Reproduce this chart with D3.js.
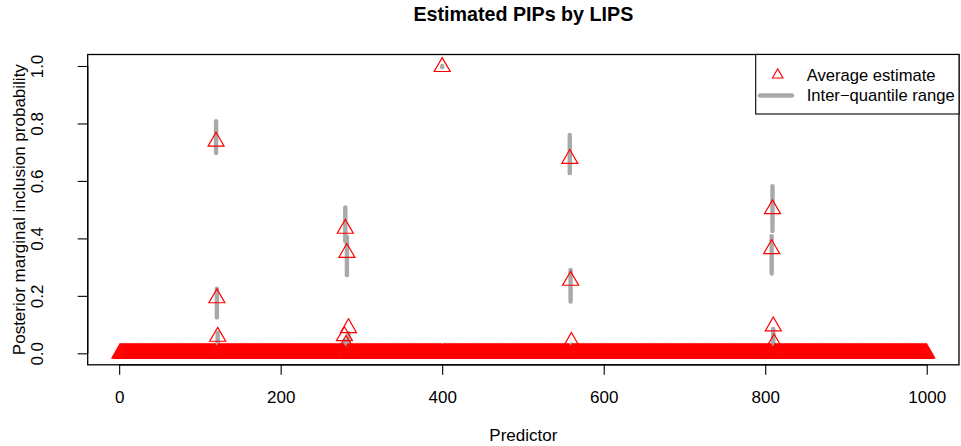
<!DOCTYPE html>
<html>
<head>
<meta charset="utf-8">
<script src="https://cdn.jsdelivr.net/npm/d3@7"></script>
<style>
  html, body { margin: 0; padding: 0; background: #fff; }
  svg { display: block; }
  text { font-family: "Liberation Sans", Arial, Helvetica, sans-serif; fill: #000; }
</style>
</head>
<body>
<svg id="chart" width="961" height="446"></svg>
<script>
// ---------------- data ----------------
const nPredictors = 1000;
// predictors with visibly non-zero estimates (all others are ~0)
const signalPredictor = [120, 121, 122, 279, 280, 281, 282, 284, 400, 558, 559, 560, 808, 809, 810, 811];
const signalMean      = [0.737, 0.192, 0.058, 0.060, 0.434, 0.030, 0.350, 0.088, 0.997, 0.677, 0.253, 0.040, 0.363, 0.502, 0.094, 0.035];
const signalQLow      = [0.697, 0.125, 0.035, 0.020, 0.390, 0.010, 0.272, 0.020, 0.996, 0.627, 0.180, 0.010, 0.278, 0.426, 0.035, 0.010];
const signalQHigh     = [0.808, 0.225, 0.071, 0.045, 0.508, 0.030, 0.405, 0.070, 1.000, 0.760, 0.290, 0.030, 0.408, 0.582, 0.085, 0.030];
const xTicks = [0, 200, 400, 600, 800, 1000];
const yTicks = [0.0, 0.2, 0.4, 0.6, 0.8, 1.0];
const yTickLabels = ["0.0", "0.2", "0.4", "0.6", "0.8", "1.0"];
const titleText = "Estimated PIPs by LIPS";
const xLabel = "Predictor";
const yLabel = "Posterior marginal inclusion probability";
const legendLabels = ["Average estimate", "Inter\u2212quantile range"];

// build full table
const rows = d3.range(1, nPredictors + 1).map(p => ({ p, mean: 0, lo: 0, hi: 0 }));
signalPredictor.forEach((p, i) => {
  rows[p - 1] = { p, mean: signalMean[i], lo: signalQLow[i], hi: signalQHigh[i] };
});

// ---------------- layout ----------------
const plot = { left: 87.7, right: 959, top: 54.5, bottom: 364.8 };
const svg = d3.select("#chart");

function pad(ext) { const d = (ext[1] - ext[0]) * 0.04; return [ext[0] - d, ext[1] + d]; }
const x = d3.scaleLinear().domain(pad([1, nPredictors])).range([plot.left, plot.right]);
const yExt = [d3.min(rows, r => Math.min(r.mean, r.lo)), d3.max(rows, r => Math.max(r.mean, r.hi))];
const y = d3.scaleLinear().domain(pad(yExt)).range([plot.bottom, plot.top]);

const grey = "#a9a9a9";
const red = "#ff0000";

// IQR segments
svg.append("g").selectAll("line").data(rows.filter(r => r.hi > 0)).join("line")
  .attr("x1", d => x(d.p)).attr("x2", d => x(d.p))
  .attr("y1", d => y(d.lo)).attr("y2", d => y(d.hi))
  .attr("stroke", grey).attr("stroke-width", 4.4).attr("stroke-linecap", "round");

// points
const tri = d3.symbol().type(d3.symbolTriangle).size(111);
svg.append("g").selectAll("path").data(rows).join("path")
  .attr("d", tri)
  .attr("transform", d => `translate(${x(d.p)},${y(d.mean)})`)
  .attr("fill", "none").attr("stroke", red).attr("stroke-width", 1.2);

// box
svg.append("rect")
  .attr("x", plot.left).attr("y", plot.top)
  .attr("width", plot.right - plot.left).attr("height", plot.bottom - plot.top)
  .attr("fill", "none").attr("stroke", "#000").attr("stroke-width", 1.3);

// x axis
const xAxis = d3.axisBottom(x).tickValues(xTicks).tickFormat(d3.format("d"))
  .tickSize(10).tickSizeOuter(0);
const gx = svg.append("g").attr("transform", `translate(0,${plot.bottom})`).call(xAxis);
gx.select(".domain").attr("d", `M${x(xTicks[0])},0H${x(xTicks[xTicks.length-1])}`).attr("stroke-width", 1.3);
gx.selectAll(".tick line").attr("stroke-width", 1.1);
gx.selectAll(".tick text").attr("font-size", 17).attr("font-family", "Liberation Sans, Arial, sans-serif")
  .attr("dy", null).attr("y", 38);

// y axis
const yAxis = d3.axisLeft(y).tickValues(yTicks).tickFormat((d, i) => yTickLabels[i]).tickSize(10).tickSizeOuter(0);
const gy = svg.append("g").attr("transform", `translate(${plot.left},0)`).call(yAxis);
gy.select(".domain").attr("d", `M0,${y(yTicks[0])}V${y(yTicks[yTicks.length-1])}`).attr("stroke-width", 1.3);
gy.selectAll(".tick line").attr("stroke-width", 1.1);
gy.selectAll(".tick text")
  .attr("font-size", 17).attr("font-family", "Liberation Sans, Arial, sans-serif")
  .attr("x", null).attr("dy", null)
  .attr("text-anchor", "middle")
  .attr("transform", `translate(${43.5 - plot.left},0) rotate(-90)`);

// titles
const cx = (plot.left + plot.right) / 2;
svg.append("text").attr("x", cx).attr("y", 21).attr("text-anchor", "middle")
  .attr("font-size", 19.7).attr("font-weight", "bold").text(titleText);
svg.append("text").attr("x", cx).attr("y", 441).attr("text-anchor", "middle")
  .attr("font-size", 17).text(xLabel);
svg.append("text").attr("transform", `translate(25,${(plot.top + plot.bottom) / 2}) rotate(-90)`)
  .attr("text-anchor", "middle").attr("font-size", 17).text(yLabel);

// legend
const lg = { left: 755.7, top: plot.top, right: plot.right, bottom: 114 };
svg.append("rect").attr("x", lg.left).attr("y", lg.top)
  .attr("width", lg.right - lg.left).attr("height", lg.bottom - lg.top)
  .attr("fill", "#fff").attr("stroke", "#000").attr("stroke-width", 1.1);
const legY = [75, 95.5];
svg.append("path").attr("d", d3.symbol().type(d3.symbolTriangle).size(49)())
  .attr("transform", `translate(777.7,${legY[0]})`)
  .attr("fill", "none").attr("stroke", red).attr("stroke-width", 1.1);
svg.append("line").attr("x1", 760).attr("x2", 792).attr("y1", legY[1]).attr("y2", legY[1])
  .attr("stroke", grey).attr("stroke-width", 4.4).attr("stroke-linecap", "round");
legendLabels.forEach((t, i) => {
  svg.append("text").attr("x", 806.7).attr("y", legY[i]).attr("dy", "0.35em")
    .attr("font-size", 16.6).text(t);
});
</script>
</body>
</html>
